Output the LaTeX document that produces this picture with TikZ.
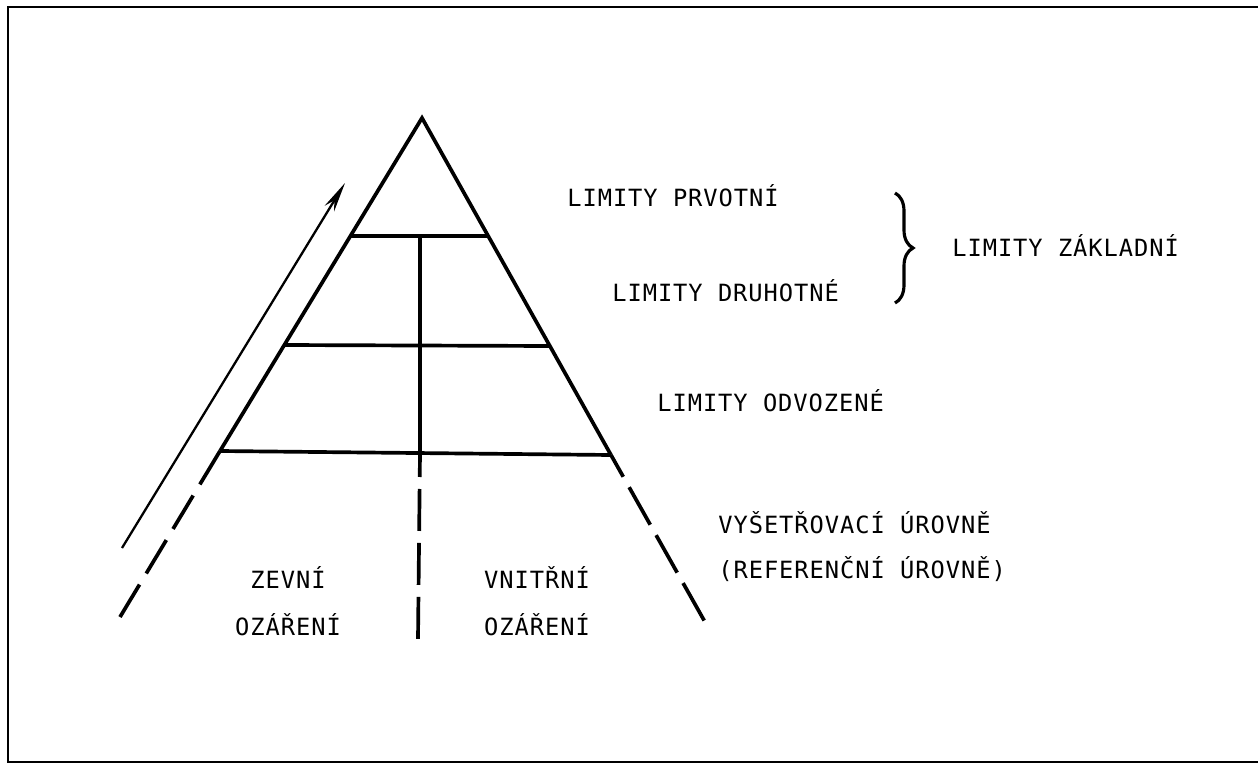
\documentclass[tikz,border=0pt]{standalone}
\usepackage{fontspec}
\newfontfamily\labfont[LetterSpace=4]{DejaVu Sans Mono}
\usetikzlibrary{arrows.meta,decorations.pathreplacing}

\begin{document}
\begin{tikzpicture}[x=0.02cm,y=-0.02cm,
  lbl/.style={font=\labfont\fontsize{13.5}{15}\selectfont,inner sep=0pt},
  side/.style={line width=2.1pt}]
\useasboundingbox (0,0) rectangle (1258,764);
\draw[line width=0.9pt] (1258,7) -- (8,7) -- (8,762) -- (1258,762);

% pyramida
\coordinate (apex) at (422,118);
\coordinate (l1) at (351,236);
\coordinate (r1) at (488,236);
\coordinate (l2) at (285,345);
\coordinate (r2) at (550,346);
\coordinate (l3) at (220,451);
\coordinate (r3) at (611,455);
\coordinate (bl) at (120,617);
\coordinate (br) at (705,622);
\coordinate (m1) at (420,236);
\coordinate (m3) at (420,453);
\coordinate (m4) at (418,639);

\draw[side] (l3) -- (apex) -- (r3);
\draw[side] (l1) -- (r1);
\draw[side] (l2) -- (r2);
\draw[side] (l3) -- (r3);
\draw[side] (m1) -- (m3);
\draw[side,dash pattern=on 0.78cm off 0.26cm] (l3) -- (bl);
\draw[side,dash pattern=on 0.86cm off 0.24cm,dash phase=0.36cm] (r3) -- (br);
\draw[side,dash pattern=on 0.84cm off 0.24cm,dash phase=0.36cm] (m3) -- (m4);

% sipka
\coordinate (arrS) at (122,548);
\coordinate (arrE) at (345,183);
\draw[line width=1.3pt,-{Stealth[length=0.6cm,width=0.22cm]}] (arrS) -- (arrE);

% zavorka
\coordinate (bt) at (895,193);
\coordinate (bb) at (895,303);
\draw[line width=1.8pt,decorate,decoration={brace,amplitude=0.36cm}] (bt) -- (bb);

\node[lbl,anchor=base west] (prvotni) at (567,206) {LIMITY PRVOTNÍ};
\node[lbl,anchor=base west] (druhotne) at (612,301) {LIMITY DRUHOTNÉ};
\node[lbl,anchor=base west] (odvozene) at (657,411) {LIMITY ODVOZENÉ};
\node[lbl,anchor=base west] (zakladni) at (952,256) {LIMITY ZÁKLADNÍ};
\node[lbl,anchor=base west] (vysetr) at (718,533) {VYŠETŘOVACÍ ÚROVNĚ};
\node[lbl,anchor=base west] (refer) at (718,578) {(REFERENČNÍ ÚROVNĚ)};

\node[lbl,anchor=base] (zevni) at (288,588) {ZEVNÍ};
\node[lbl,anchor=base] (ozarz) at (288,635) {OZÁŘENÍ};
\node[lbl,anchor=base] (vnitrni) at (537,588) {VNITŘNÍ};
\node[lbl,anchor=base] (ozarv) at (537,635) {OZÁŘENÍ};

\end{tikzpicture}
\end{document}
